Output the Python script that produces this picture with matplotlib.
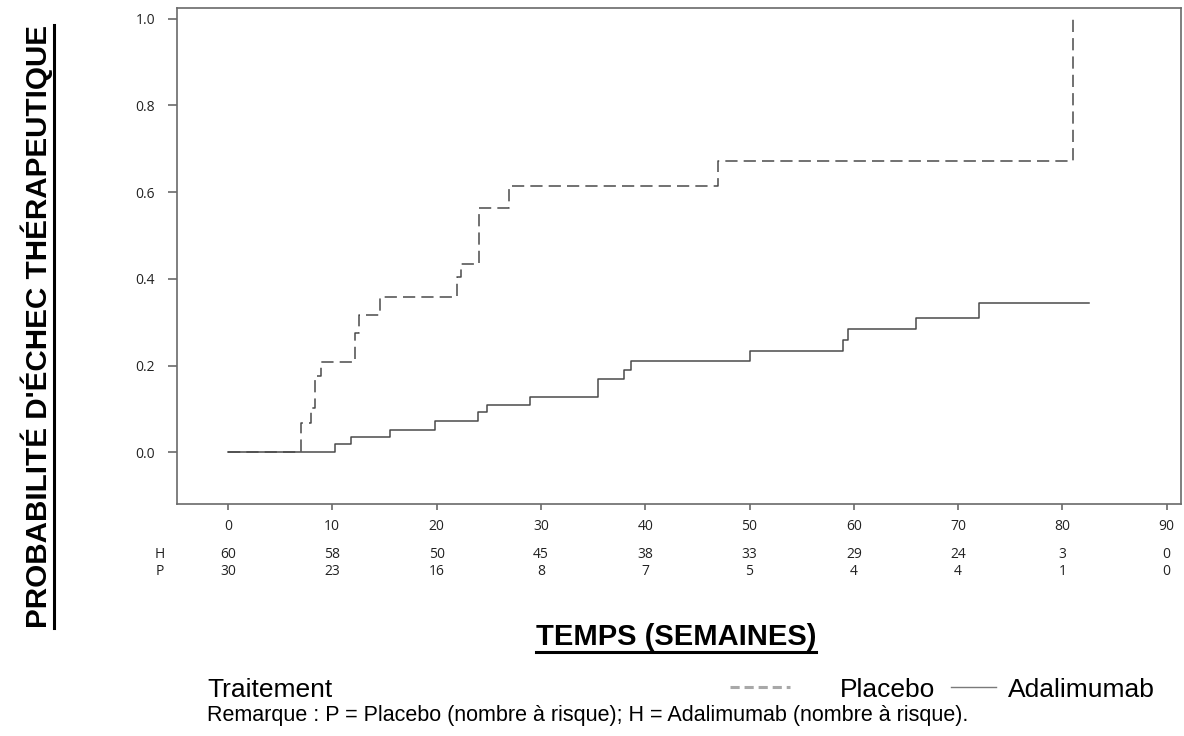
import matplotlib
matplotlib.use('Agg')
import matplotlib.pyplot as plt
from matplotlib.lines import Line2D

# Kaplan-Meier estimates
placebo_t = [0, 7, 8, 8.3, 8.9, 12.2, 12.6, 14.6, 22.0, 22.3, 24.1, 26.9, 47.0, 81.0]
placebo_p = [0, 0.067, 0.101, 0.175, 0.208, 0.275, 0.316, 0.357, 0.405, 0.433, 0.563, 0.613, 0.672, 1.0]

adali_t = [0, 10.3, 11.8, 15.5, 19.85, 24.0, 24.8, 28.95, 35.5, 38.0, 38.6, 50.0, 59.0, 59.4, 66.0, 72.0, 82.5]
adali_p = [0, 0.018, 0.036, 0.051, 0.073, 0.092, 0.108, 0.128, 0.170, 0.190, 0.211, 0.234, 0.259, 0.284, 0.310, 0.345, 0.345]

risk_times = [0, 10, 20, 30, 40, 50, 60, 70, 80, 90]
risk_h = [60, 58, 50, 45, 38, 33, 29, 24, 3, 0]
risk_p = [30, 23, 16, 8, 7, 5, 4, 4, 1, 0]

yticks = [0.0, 0.2, 0.4, 0.6, 0.8, 1.0]

label_font = 'Liberation Sans'
tick_font = 'Open Sans'
txt_col = '#222222'

fig = plt.figure(figsize=(11.84, 7.36), dpi=100)
ax = fig.add_axes([0.1492, 0.3148, 0.8483, 0.6742])

line_col = '#4a4a4a'
ax.step(placebo_t, placebo_p, where='post', color=line_col, lw=1.1,
        linestyle=(0, (8, 4)))
ax.step(adali_t, adali_p, where='post', color=line_col, lw=1.1)

ax.set_xlim(-4.92, 91.37)
ax.set_ylim(-0.12, 1.024)
ax.set_xticks(risk_times)
ax.set_yticks(yticks)
ax.set_yticklabels(['%.1f' % v for v in yticks])

for s in ax.spines.values():
    s.set_color('#6a6a6a')
    s.set_linewidth(1.2)
ax.tick_params(axis='x', length=4.5, width=1.2, color='#6a6a6a', pad=6,
               labelsize=10, labelcolor=txt_col)
ax.tick_params(axis='y', length=6.5, width=1.2, color='#6a6a6a', pad=9,
               labelsize=10, labelcolor=txt_col)
for lab in ax.get_xticklabels() + ax.get_yticklabels():
    lab.set_family(tick_font)

# number at risk
trans = ax.get_xaxis_transform()
for name, row, yy in [('H', risk_h, -0.102), ('P', risk_p, -0.136)]:
    ax.text(-6.5, yy, name, transform=trans, ha='center', va='center',
            fontsize=10, family=tick_font, color=txt_col, clip_on=False)
    for t, n in zip(risk_times, row):
        ax.text(t, yy, str(n), transform=trans, ha='center', va='center',
                fontsize=10, family=tick_font, color=txt_col, clip_on=False)

# axis titles (bold, underlined)
xl = fig.text(0.571, 0.1345, 'TEMPS (SEMAINES)', ha='center', va='center',
              fontsize=21, fontweight='bold', family=label_font)
yl = fig.text(0.031, 0.5564, "PROBABILITÉ D'ÉCHEC THÉRAPEUTIQUE", ha='center',
              va='center', rotation=90, fontsize=21.3, fontweight='bold',
              family=label_font)

# legend row
fig.text(0.1748, 0.0625, 'Traitement', ha='left', va='center',
         fontsize=19, family=label_font)
fig.lines.append(Line2D([0.6166, 0.6672], [0.0666, 0.0666], transform=fig.transFigure,
                        color='#a8a8a8', lw=2.2, linestyle=(0, (3, 1.6))))
fig.text(0.7095, 0.0625, 'Placebo', ha='left', va='center',
         fontsize=19, family=label_font)
fig.lines.append(Line2D([0.803, 0.841], [0.0666, 0.0666], transform=fig.transFigure,
                        color='#7a7a7a', lw=1.0))
fig.text(0.851, 0.0625, 'Adalimumab', ha='left', va='center',
         fontsize=19, family=label_font)
fig.text(0.1748, 0.0272,
         'Remarque : P = Placebo (nombre à risque); H = Adalimumab (nombre à risque).',
         ha='left', va='center', fontsize=15.5, family=label_font)

# underline the two titles
fig.canvas.draw()
r = fig.canvas.get_renderer()
inv = fig.transFigure.inverted()
bb = xl.get_window_extent(r).transformed(inv)
fig.lines.append(Line2D([bb.x0, bb.x1], [bb.y0 - 0.002, bb.y0 - 0.002],
                        transform=fig.transFigure, color='black', lw=2.2))
bb = yl.get_window_extent(r).transformed(inv)
fig.lines.append(Line2D([bb.x1 + 0.001, bb.x1 + 0.001], [bb.y0, bb.y1],
                        transform=fig.transFigure, color='black', lw=2.2))

fig.savefig('out.png', dpi=100)
